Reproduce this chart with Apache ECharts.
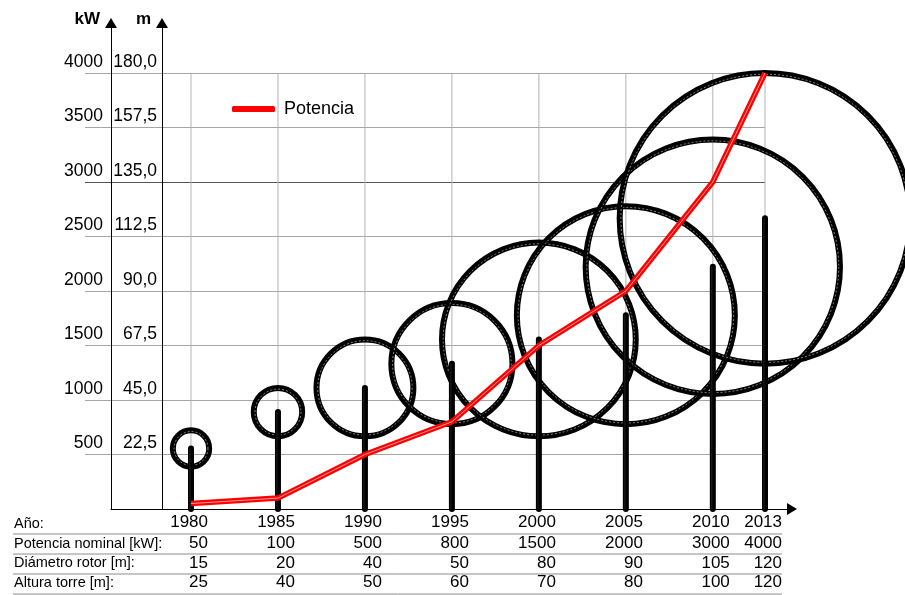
<!DOCTYPE html>
<html><head><meta charset="utf-8">
<script src="https://cdn.jsdelivr.net/npm/echarts@6/dist/echarts.min.js"></script>
<style>html,body{margin:0;padding:0;background:#fff}#c{width:905px;height:595px}</style>
</head><body><div id="c"></div>
<script>
// ---- data ----
const years = [1980, 1985, 1990, 1995, 2000, 2005, 2010, 2013];
const yearLabels = ['1980', '1985', '1990', '1995', '2000', '2005', '2010', '2013'];
const potencia = [50, 100, 500, 800, 1500, 2000, 3000, 4000];   // kW
const diametro = [15, 20, 40, 50, 80, 90, 105, 120];            // m
const altura = [25, 40, 50, 60, 70, 80, 100, 120];              // m
const kwTickLabels = ['', '500', '1000', '1500', '2000', '2500', '3000', '3500', '4000'];
const mTickLabels = ['', '22,5', '45,0', '67,5', '90,0', '112,5', '135,0', '157,5', '180,0'];
const rowLabels = ['Año:', 'Potencia nominal [kW]:', 'Diámetro rotor [m]:', 'Altura torre [m]:'];
const seriesName = 'Potencia';

const FONT = '"Liberation Sans", Arial, sans-serif';
const chart = echarts.init(document.getElementById('c'), null, {renderer: 'canvas'});

const noAxisBits = {axisTick: {show: false}, axisLabel: {show: false}, splitLine: {show: false}};
const arrowLine = {show: true, onZero: false, lineStyle: {color: '#000', width: 1}, symbol: ['none', 'triangle'], symbolSize: [12, 10]};

const rowY = [522, 543, 563, 582];
const labelY = [524, 544, 563, 583];
const lineY = [534, 554, 574, 594];

const graphics = [];
rowLabels.forEach((t, i) => {
  graphics.push({type: 'text', left: 14, top: labelY[i] - 8, style: {text: t, font: '14.5px ' + FONT, fill: '#000'}});
});
lineY.forEach(y => {
  graphics.push({type: 'line', shape: {x1: 13, y1: y, x2: 782, y2: y}, style: {stroke: '#8c8c8c', lineWidth: 1}});
});

const option = {
  animation: false,
  backgroundColor: '#fff',
  textStyle: {fontFamily: FONT},
  grid: [
    {left: 85, right: 140, top: 73, bottom: 86, containLabel: false},
    {left: 111, right: 113, top: 23, bottom: 86, containLabel: false}
  ],
  legend: {
    data: [seriesName], left: 232, top: 100, padding: 0, icon: 'roundRect', itemWidth: 43, itemHeight: 6,
    textStyle: {fontSize: 18, color: '#000', fontFamily: FONT, padding: [0, 0, 0, 4]}
  },
  xAxis: [
    {type: 'value', gridIndex: 0, min: 1973.906, max: 2013, axisLine: {show: false}, ...noAxisBits},
    {type: 'value', gridIndex: 1, min: 0, max: 1, axisLine: arrowLine, ...noAxisBits}
  ],
  yAxis: [
    {
      type: 'value', gridIndex: 0, min: 0, max: 4000, interval: 500, position: 'left', offset: -26,
      axisLine: {show: false}, axisTick: {show: false},
      axisLabel: {margin: 8, fontSize: 17.5, color: '#000', verticalAlign: 'bottom', padding: [0, 0, 2, 0],
        formatter: v => kwTickLabels[Math.round(v / 500)] || ''},
      splitLine: {show: true, lineStyle: {width: 1,
        color: ['rgba(0,0,0,0)', '#a6a6a6', '#a6a6a6', '#a6a6a6', '#a6a6a6', '#a6a6a6', '#555555', '#a6a6a6', '#a6a6a6']}}
    },
    {
      type: 'value', gridIndex: 0, min: 0, max: 180, interval: 22.5, position: 'left', offset: -77,
      axisLine: {show: false}, axisTick: {show: false}, splitLine: {show: false},
      axisLabel: {margin: 5, fontSize: 17.5, color: '#000', verticalAlign: 'bottom', padding: [0, 0, 2, 0],
        formatter: v => mTickLabels[Math.round(v / 22.5)] || ''}
    },
    {
      type: 'value', gridIndex: 1, min: 0, max: 1, position: 'left', axisLine: arrowLine, ...noAxisBits,
      name: 'kW', nameLocation: 'end', nameGap: 4,
      nameTextStyle: {fontSize: 17, fontWeight: 'bold', color: '#000', align: 'right', verticalAlign: 'middle', padding: [0, 11, 0, 0]}
    },
    {
      type: 'value', gridIndex: 1, min: 0, max: 1, position: 'left', offset: -51, axisLine: arrowLine, ...noAxisBits,
      name: 'm', nameLocation: 'end', nameGap: 4,
      nameTextStyle: {fontSize: 17, fontWeight: 'bold', color: '#000', align: 'right', verticalAlign: 'middle', padding: [0, 11, 0, 0]}
    }
  ],
  graphic: graphics,
  series: [
    { // vertical grid lines at each year
      type: 'custom', name: 'vgrid', xAxisIndex: 0, yAxisIndex: 0, silent: true,
      data: years.map(y => [y, 0]),
      renderItem: (params, api) => {
        const p0 = api.coord([api.value(0), 0]);
        const p1 = api.coord([api.value(0), 4000]);
        return {type: 'line', shape: {x1: p0[0], y1: p0[1], x2: p1[0], y2: p1[1]}, style: {stroke: '#b3b3b3', lineWidth: 1}};
      }
    },
    { // rotors
      type: 'custom', name: 'rotor', xAxisIndex: 0, yAxisIndex: 1, clip: false, silent: true,
      data: years.map((y, i) => [y, altura[i], diametro[i]]),
      encode: {x: 0, y: 1},
      renderItem: (params, api) => {
        const c = api.coord([api.value(0), api.value(1)]);
        const r = api.size([0, api.value(2) / 2])[1];
        return {type: 'group', children: [
          {type: 'circle', shape: {cx: c[0], cy: c[1], r: r}, style: {fill: 'none', stroke: '#000', lineWidth: 6}},
          {type: 'circle', shape: {cx: c[0], cy: c[1], r: r - 1.2}, style: {fill: 'none', stroke: 'rgba(255,255,255,0.75)', lineWidth: 0.7, lineDash: [2, 2]}}
        ]};
      }
    },
    { // towers
      type: 'custom', name: 'tower', xAxisIndex: 0, yAxisIndex: 1, clip: false, silent: true,
      data: years.map((y, i) => [y, altura[i]]),
      encode: {x: 0, y: 1},
      renderItem: (params, api) => {
        const p0 = api.coord([api.value(0), 0]);
        const p1 = api.coord([api.value(0), api.value(1)]);
        return {type: 'group', children: [
          {type: 'line', shape: {x1: p0[0], y1: p0[1], x2: p1[0], y2: p1[1]}, style: {stroke: '#000', lineWidth: 6, lineCap: 'round'}},
          {type: 'line', shape: {x1: p0[0] - 1, y1: p0[1], x2: p1[0] - 1, y2: p1[1]}, style: {stroke: 'rgba(110,110,110,0.5)', lineWidth: 0.6}}
        ]};
      }
    },
    {
      type: 'line', name: seriesName, xAxisIndex: 0, yAxisIndex: 0,
      data: years.map((y, i) => [y, potencia[i]]),
      symbol: 'none', color: '#ff0000', lineStyle: {color: '#ff0000', width: 5.5}
    },
    {
      type: 'line', name: 'stripe', xAxisIndex: 0, yAxisIndex: 0, silent: true,
      data: years.map((y, i) => [y, potencia[i]]),
      symbol: 'none', lineStyle: {color: 'rgba(255,255,255,0.75)', width: 0.8}
    },
    { // table values
      type: 'custom', name: 'table', xAxisIndex: 0, yAxisIndex: 0, clip: false, silent: true,
      data: years.map((y, i) => [y, 0]),
      renderItem: (params, api) => {
        const i = params.dataIndex;
        const x = api.coord([api.value(0), 0])[0] + 17;
        const vals = [yearLabels[i], String(potencia[i]), String(diametro[i]), String(altura[i])];
        return {type: 'group', children: vals.map((t, k) => ({
          type: 'text', style: {text: t, x: x, y: rowY[k], align: 'right', verticalAlign: 'middle', font: '17px ' + FONT, fill: '#000'}
        }))};
      }
    }
  ]
};
chart.setOption(option);
</script></body></html>
